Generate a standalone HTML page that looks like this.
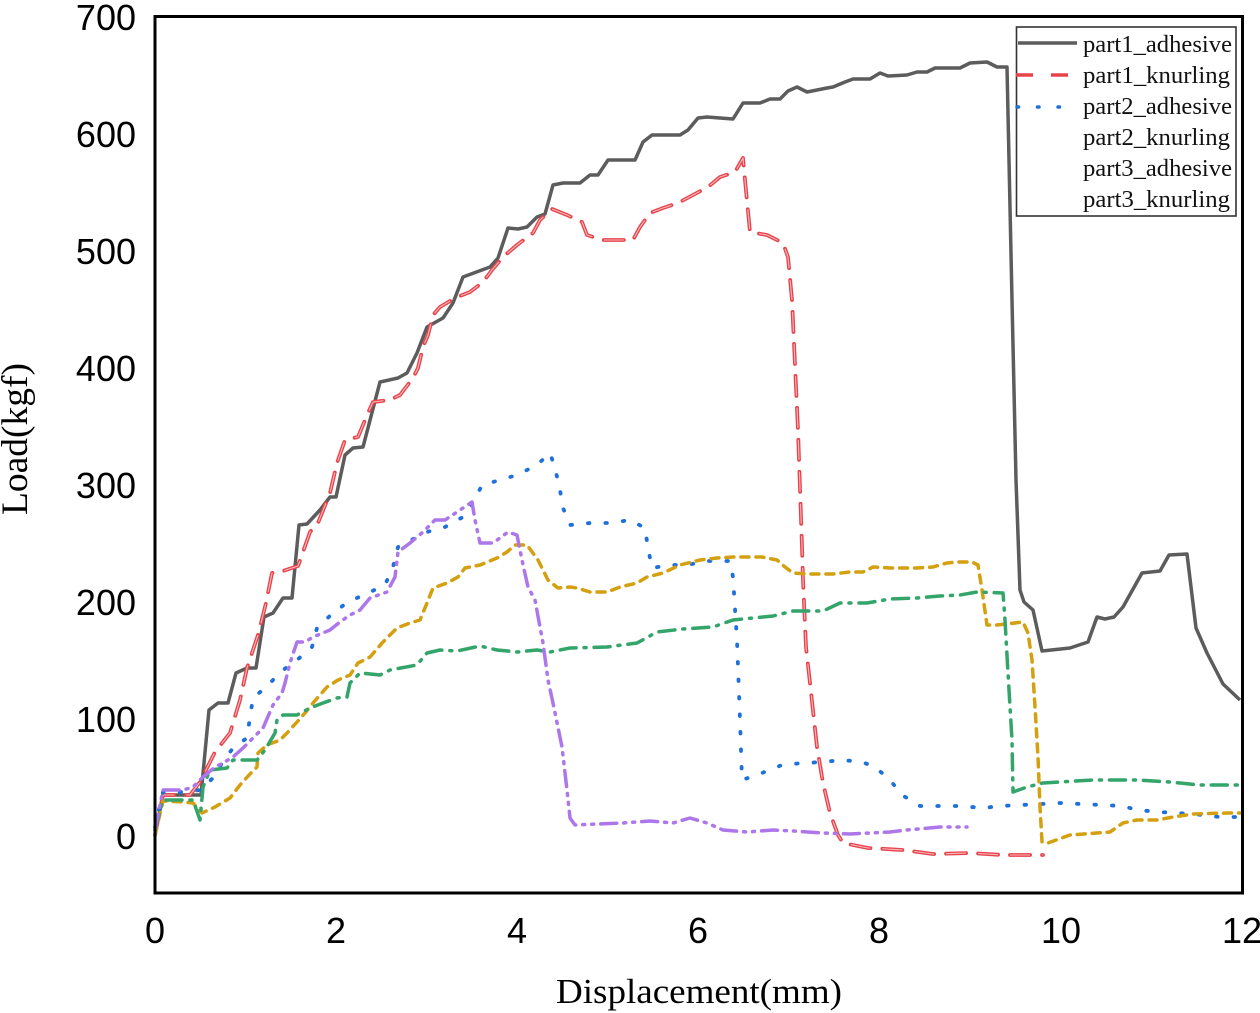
<!DOCTYPE html>
<html>
<head>
<meta charset="utf-8">
<style>
html,body{margin:0;padding:0;background:#fff;}
svg{display:block;}
</style>
</head>
<body>
<svg width="1260" height="1013" viewBox="0 0 1260 1013" xmlns="http://www.w3.org/2000/svg">
<rect x="0" y="0" width="1260" height="1013" fill="#fff"/>

<!-- series -->
<g fill="none" stroke-linejoin="round">
<!-- part1_adhesive -->
<polyline stroke="#5c5c5c" stroke-width="3.5" points="155,835 163,795 201,795 209,710 218,703 228,703 236,673 247,668 256,668 264,617 273,613 283,598 292,598 299,525 307,524 320,510 330,497 336,497 345,455 353,448 363,447 380,382 398,378 407,373 417,353 427,327 443,318 453,303 463,277 490,267 498,258 508,228 518,229 527,227 537,217 545,214 553,185 563,183 580,183 590,175 598,175 608,160 635,160 643,142 652,135 680,135 688,130 698,118 707,117 733,119 743,103 760,103 770,99 780,99 788,91 797,87 807,92 827,88 833,87 845,82 853,79 870,79 880,73 888,76 907,75 917,72 927,72 935,68 960,68 970,63 987,62 997,67 1007,67 1012,300 1016,480 1020,590 1024,602 1033,610 1042,651 1070,648 1088,642 1097,617 1105,619 1114,617 1123,607 1142,573 1160,571 1169,555 1187,554 1196,628 1207,653 1223,684 1240,700"/>

<!-- part1_knurling -->
<polyline stroke="#e8434b" stroke-width="3.8" stroke-dasharray="20,12" stroke-linecap="round" points="155,835 163,795 190,795 200,782 215,752 230,733 240,700 247,668 258,635 266,603 272,573 283,571 298,566 303,552 310,532 318,523 330,493 337,463 345,440 358,437 368,413 373,402 390,400 400,395 413,378 418,368 423,347 428,335 433,315 440,307 455,298 470,292 483,282 492,270 503,257 517,245 533,233 540,220 552,209 567,215 582,222 587,235 602,240 633,240 640,227 650,213 663,208 678,203 693,195 708,187 720,177 735,172 743,158 745,180 750,232 767,235 783,243 788,257 792,300 798,430 802,547 803,580 806,647 810,683 817,747 823,783 830,813 838,835 843,843 868,848 903,850 933,854 970,853 1003,855 1043,855"/>
<polyline stroke="#f6b9bb" stroke-width="1.1" stroke-dasharray="20,12" points="155,835 163,795 190,795 200,782 215,752 230,733 240,700 247,668 258,635 266,603 272,573 283,571 298,566 303,552 310,532 318,523 330,493 337,463 345,440 358,437 368,413 373,402 390,400 400,395 413,378 418,368 423,347 428,335 433,315 440,307 455,298 470,292 483,282 492,270 503,257 517,245 533,233 540,220 552,209 567,215 582,222 587,235 602,240 633,240 640,227 650,213 663,208 678,203 693,195 708,187 720,177 735,172 743,158 745,180 750,232 767,235 783,243 788,257 792,300 798,430 802,547 803,580 806,647 810,683 817,747 823,783 830,813 838,835 843,843 868,848 903,850 933,854 970,853 1003,855 1043,855"/>

<!-- part2_adhesive -->
<polyline stroke="#2070dc" stroke-width="3.8" stroke-dasharray="1.5,16" stroke-linecap="round" points="155,827 163,792 183,792 200,790 213,778 222,763 233,748 247,738 250,717 253,698 265,688 280,673 287,667 297,660 312,647 317,628 333,613 348,602 368,593 385,585 393,567 398,547 415,538 427,532 445,527 463,517 473,503 482,485 500,480 517,475 537,465 550,453 555,468 560,490 563,508 570,525 590,523 610,523 630,520 645,528 648,548 652,568 670,565 687,565 707,561 730,561 733,577 737,640 740,720 742,780 762,773 782,765 803,763 823,762 842,760 862,762 875,767 890,780 902,795 920,806 960,806 983,808 1000,806 1042,804 1060,803 1123,806 1137,810 1160,812 1193,814 1220,817 1240,817"/>

<!-- part2_knurling -->
<polyline stroke="#d4a010" stroke-width="3.5" stroke-dasharray="8,7" stroke-linecap="round" points="155,835 163,801 183,802 193,803 202,813 215,807 230,798 240,785 250,774 257,767 258,753 267,745 280,740 287,733 297,722 305,713 313,703 327,687 338,680 350,675 358,663 370,657 383,642 397,628 410,623 420,620 427,603 433,588 447,583 458,577 465,568 480,565 497,558 507,552 515,545 527,545 538,560 548,580 558,588 570,587 577,588 590,592 607,592 620,587 637,583 647,577 663,573 680,565 700,560 717,558 733,557 762,557 777,560 785,567 793,573 807,574 833,574 850,572 863,572 873,567 890,568 917,568 933,567 947,563 957,562 972,562 978,565 982,590 987,625 997,625 1023,622 1028,633 1032,660 1035,707 1038,757 1040,807 1042,842 1048,843 1070,835 1110,832 1123,823 1137,820 1157,820 1173,817 1193,814 1227,813 1240,813"/>

<!-- part3_adhesive -->
<polyline stroke="#33a46a" stroke-width="3.5" stroke-dasharray="16,8,2,8" stroke-linecap="round" points="155,830 163,800 193,800 200,820 203,787 210,770 227,768 233,760 257,760 265,750 275,733 277,720 283,715 297,715 310,708 323,703 337,698 347,697 350,683 360,673 380,675 390,670 417,665 427,653 440,650 457,651 480,646 497,650 517,652 537,650 550,652 570,648 607,647 637,643 657,632 683,629 713,627 733,620 753,618 773,616 793,611 823,611 840,603 867,603 890,599 917,598 940,596 960,595 977,592 1003,593 1005,620 1008,673 1012,740 1013,792 1027,787 1043,783 1093,780 1137,780 1170,782 1200,785 1240,785"/>

<!-- part3_knurling -->
<polyline stroke="#ad77ea" stroke-width="3.5" stroke-dasharray="16,7,2,7,2,7" stroke-linecap="round" points="155,830 163,790 183,790 193,787 203,777 215,767 223,763 233,757 243,748 253,738 263,728 273,705 282,693 285,683 290,663 297,642 305,642 313,637 330,630 340,622 350,615 360,610 370,598 387,592 395,577 398,552 410,543 423,532 435,520 445,520 457,512 472,502 475,520 480,543 493,543 508,532 517,535 522,560 528,587 535,600 540,627 543,643 548,680 553,703 562,747 567,790 570,818 575,825 597,824 623,823 650,821 673,823 690,818 707,823 723,830 747,832 773,830 793,831 823,833 850,834 890,832 907,830 940,827 967,827"/>
</g>

<!-- axes frame -->
<rect x="155" y="16.5" width="1087.5" height="876.5" fill="none" stroke="#000" stroke-width="3"/>

<!-- legend -->
<rect x="1016.5" y="27" width="219.5" height="189" fill="#fff" stroke="#333" stroke-width="1.6"/>
<line x1="1018" y1="43" x2="1077" y2="43" stroke="#5c5c5c" stroke-width="3.5"/>
<line x1="1016" y1="75" x2="1077" y2="75" stroke="#e8434b" stroke-width="3.5" stroke-dasharray="17,18" stroke-dashoffset="0"/>
<line x1="1017" y1="107" x2="1077" y2="107" stroke="#2070dc" stroke-width="3.5" stroke-dasharray="1.5,19" stroke-linecap="round"/>
<g font-family="'Liberation Serif', serif" font-size="24.5" fill="#111">
<text x="1083" y="52" textLength="149" lengthAdjust="spacingAndGlyphs">part1_adhesive</text>
<text x="1083" y="83" textLength="147" lengthAdjust="spacingAndGlyphs">part1_knurling</text>
<text x="1083" y="114" textLength="149" lengthAdjust="spacingAndGlyphs">part2_adhesive</text>
<text x="1083" y="145" textLength="147" lengthAdjust="spacingAndGlyphs">part2_knurling</text>
<text x="1083" y="176" textLength="149" lengthAdjust="spacingAndGlyphs">part3_adhesive</text>
<text x="1083" y="207" textLength="147" lengthAdjust="spacingAndGlyphs">part3_knurling</text>
</g>

<!-- y tick labels -->
<g font-family="'Liberation Sans', sans-serif" font-size="36" fill="#000" text-anchor="end">
<text x="136" y="30">700</text>
<text x="136" y="147">600</text>
<text x="136" y="264">500</text>
<text x="136" y="381">400</text>
<text x="136" y="498">300</text>
<text x="136" y="615">200</text>
<text x="136" y="732">100</text>
<text x="136" y="849">0</text>
</g>

<!-- x tick labels -->
<g font-family="'Liberation Sans', sans-serif" font-size="36" fill="#000" text-anchor="middle">
<text x="155" y="943">0</text>
<text x="336" y="943">2</text>
<text x="517" y="943">4</text>
<text x="698" y="943">6</text>
<text x="879" y="943">8</text>
<text x="1061" y="943">10</text>
<text x="1242" y="943">12</text>
</g>

<!-- axis titles -->
<text x="699" y="1003" font-family="'Liberation Serif', serif" font-size="35" fill="#000" text-anchor="middle" textLength="286" lengthAdjust="spacingAndGlyphs">Displacement(mm)</text>
<text transform="translate(27,439) rotate(-90)" x="0" y="0" font-family="'Liberation Serif', serif" font-size="37" fill="#000" text-anchor="middle" textLength="152" lengthAdjust="spacingAndGlyphs">Load(kgf)</text>
</svg>
</body>
</html>
